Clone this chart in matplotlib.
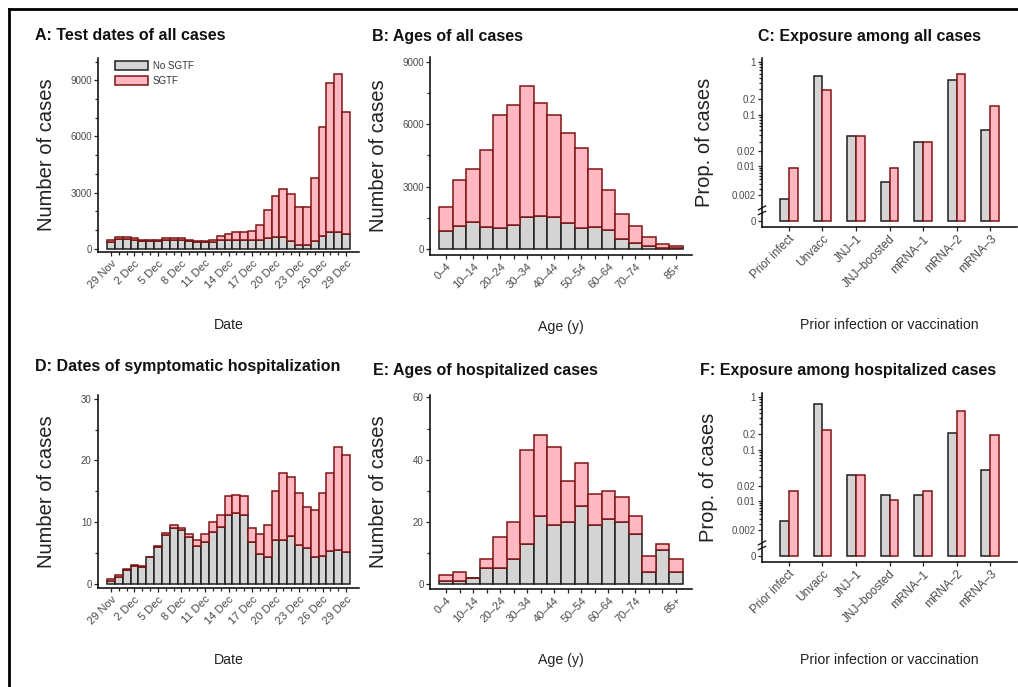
import numpy as np
import pandas as pd
import matplotlib
matplotlib.use("Agg")
import matplotlib.pyplot as plt
import matplotlib.dates as mdates
from matplotlib.lines import Line2D

plt.rcParams['font.family'] = ['Liberation Sans', 'DejaVu Sans']

# ---- data ----
dates = pd.date_range('2021-11-29', '2021-12-29')
date_ticks = pd.date_range('2021-11-29', '2021-12-29', freq='3D')

test_nosgtf = [360, 500, 500, 460, 400, 400, 400, 470, 470, 470, 400, 340, 340, 380, 440, 460,
               440, 440, 440, 480, 560, 620, 620, 420, 220, 200, 420, 700, 900, 900, 800]
test_sgtf = [80, 120, 120, 105, 80, 80, 80, 110, 110, 110, 80, 60, 60, 100, 210, 330,
             440, 440, 480, 810, 1500, 2200, 2590, 2490, 2000, 2020, 3370, 5790, 7980, 8420, 6490]

ages = ['0–4', '5–9', '10–14', '15–19', '20–24', '25–29', '30–34', '35–39', '40–44',
        '45–49', '50–54', '55–59', '60–64', '65–69', '70–74', '75–79', '80–84', '85+']
age_shown = ['0–4', '10–14', '20–24', '30–34', '40–44', '50–54', '60–64', '70–74', '85+']

age_nosgtf = [850, 1125, 1290, 1045, 1010, 1170, 1540, 1575, 1540, 1250, 1010, 1045, 930, 480, 290, 130, 50, 30]
age_sgtf = [1175, 2215, 2540, 3695, 5420, 5740, 6310, 5435, 4890, 4340, 3860, 2785, 1930, 1220, 800, 450, 190, 100]

exposures = ['Prior infect', 'Unvacc', 'JNJ–1', 'JNJ–boosted', 'mRNA–1', 'mRNA–2', 'mRNA–3']
exp_all_nosgtf = [0.0016, 0.547, 0.038, 0.0044, 0.030, 0.447, 0.051]
exp_all_sgtf = [0.009, 0.299, 0.038, 0.009, 0.030, 0.589, 0.145]

hosp_nosgtf = [0.5, 1.2, 2.2, 2.9, 2.8, 4.3, 6.0, 8.0, 9.0, 8.7, 7.6, 6.2, 6.8, 8.4, 9.2, 11.2,
               11.5, 11.2, 6.8, 4.9, 4.3, 7.1, 7.1, 7.8, 6.3, 5.9, 4.3, 4.6, 5.3, 5.5, 5.1]
hosp_sgtf = [0.3, 0.3, 0.2, 0.2, 0.1, 0.0, 0.1, 0.2, 0.5, 0.4, 0.5, 0.9, 1.3, 1.6, 2.0, 3.0,
             2.9, 3.0, 2.2, 3.2, 5.2, 7.9, 10.9, 9.6, 8.5, 6.5, 7.7, 10.1, 12.7, 16.7, 15.8]

hage_nosgtf = [1, 1, 2, 5, 5, 8, 13, 22, 19, 20, 25, 19, 21, 20, 16, 4, 11, 4]
hage_sgtf = [2, 3, 0, 3, 10, 12, 30, 26, 25, 13, 14, 10, 9, 8, 6, 5, 2, 4]

exp_hosp_nosgtf = [0.0036, 0.727, 0.032, 0.0132, 0.0132, 0.207, 0.041]
exp_hosp_sgtf = [0.0156, 0.24, 0.032, 0.0101, 0.0156, 0.543, 0.187]

prop_ticks = [0, 0.002, 0.01, 0.02, 0.1, 0.2, 1]
prop_labels = ['0', '0.002', '0.01', '0.02', '0.1', '0.2', '1']

GRAY, GRAY_EDGE = '#d4d4d4', '#1e1e1e'
PINK, PINK_EDGE = '#ffb8c2', '#7f1414'
TICKC = '#4a4a4a'

W, H = 1018, 687
fig = plt.figure(figsize=(W / 100, H / 100), dpi=100)


def px_axes(l, t, r, b):
    ax = fig.add_axes([l / W, 1 - b / H, (r - l) / W, (b - t) / H])
    for s in ['top', 'right']:
        ax.spines[s].set_visible(False)
    for s in ['left', 'bottom']:
        ax.spines[s].set_linewidth(1.1)
    ax.tick_params(which='both', direction='out', length=3, width=0.9, colors='#222222',
                   labelcolor=TICKC, labelsize=7, pad=1.5)
    ax.tick_params(axis='x', labelsize=8)
    ax.tick_params(which='minor', length=2.5)
    ax.set_facecolor('none')
    return ax, (l, t, r, b)


def labels(ax, box, xlabel, ylabel, xlab_y, ylab_x):
    l, t, r, b = box
    ax.set_xlabel(xlabel, fontsize=10.2, color='#222222')
    ax.set_ylabel(ylabel, fontsize=14.5, color='#222222')
    ax.xaxis.set_label_coords(0.5, (b - xlab_y) / (b - t))
    ax.yaxis.set_label_coords((ylab_x - l) / (r - l), 0.5)
    ax.xaxis.label.set_va('center')
    ax.yaxis.label.set_va('center')


def rot(ax):
    for lab in ax.get_xticklabels():
        lab.set_rotation(45)
        lab.set_ha('right')
        lab.set_rotation_mode('anchor')


def date_panel(box, nos, sg, ymax, major, minor, ymin):
    ax, box = px_axes(*box)
    ax.bar(dates, nos, width=1, color=GRAY, edgecolor=GRAY_EDGE, linewidth=1.1, label='No SGTF')
    ax.bar(dates, sg, width=1, bottom=nos, color=PINK, edgecolor=PINK_EDGE, linewidth=1.1, label='SGTF')
    ax.set_xlim(dates[0] - pd.Timedelta(days=1.65), dates[-1] + pd.Timedelta(days=1.65))
    ax.set_ylim(ymin, ymax)
    ax.set_xticks(date_ticks)
    ax.xaxis.set_major_formatter(mdates.DateFormatter('%-d %b'))
    ax.set_xticks(dates, minor=True)
    ax.set_yticks(major)
    ax.set_yticks(minor, minor=True)
    rot(ax)
    return ax, box


def age_panel(box, nos, sg, ymax, major, minor, ymin):
    ax, box = px_axes(*box)
    x = np.arange(len(ages))
    ax.bar(x, nos, width=1, color=GRAY, edgecolor=GRAY_EDGE, linewidth=1.1)
    ax.bar(x, sg, width=1, bottom=nos, color=PINK, edgecolor=PINK_EDGE, linewidth=1.1)
    ax.set_xlim(-1.2, len(ages) + 0.2)
    ax.set_ylim(ymin, ymax)
    ax.set_xticks(x)
    ax.set_xticklabels([a if a in age_shown else '' for a in ages])
    ax.set_yticks(major)
    ax.set_yticks(minor, minor=True)
    rot(ax)
    return ax, box


def fwd(v):
    return np.log10(np.maximum(np.asarray(v) + 0.001, 1e-9))


def inv(u):
    return 10 ** np.asarray(u) - 0.001


def exposure_panel(box, nos, sg):
    ax, box = px_axes(*box)
    x = np.arange(len(exposures))
    w = 0.265
    ax.set_yscale('function', functions=(fwd, inv))
    ax.bar(x - w / 2, nos, width=w, color=GRAY, edgecolor=GRAY_EDGE, linewidth=1.1)
    ax.bar(x + w / 2, sg, width=w, color=PINK, edgecolor=PINK_EDGE, linewidth=1.1)
    ax.set_xlim(-0.8, 6.8)
    ax.set_ylim(-0.00024, 1.18)
    ax.set_yticks(prop_ticks)
    ax.set_yticklabels(prop_labels)
    minor = [m * d for d in (0.001, 0.01, 0.1) for m in range(3, 10)]
    ax.set_yticks(minor, minor=True)
    ax.set_xticks(x)
    ax.set_xticklabels(exposures, fontsize=8.5)
    rot(ax)
    # axis break marks between 0 and 0.002
    tr = ax.get_yaxis_transform()
    for y0, y1 in ((0.0003, 0.0005), (0.0006, 0.0009)):
        ax.plot([-0.014, 0.014], [y0, y1], transform=tr, clip_on=False, color='#222222', lw=1.0)
    return ax, box


# Panel A
axA, bA = date_panel((98, 58, 359, 252), test_nosgtf, test_sgtf, 10200,
                     [0, 3000, 6000, 9000], [1000, 2000, 4000, 5000, 7000, 8000, 10000], -180)
labels(axA, bA, 'Date', 'Number of cases', 325, 47)
leg = axA.legend(loc='upper left', bbox_to_anchor=(0.065, 0.985), frameon=False, fontsize=7,
                 handlelength=3.4, handleheight=1.1, labelspacing=0.5, borderpad=0,
                 borderaxespad=0, handletextpad=0.5)
for t in leg.get_texts():
    t.set_color('#333333')

# Panel B
axB, bB = age_panel((430, 57, 692, 255), age_nosgtf, age_sgtf, 9240,
                    [0, 3000, 6000, 9000], [1500, 4500, 7500], -290)
labels(axB, bB, 'Age (y)', 'Number of cases', 327, 378)

# Panel C
axC, bC = exposure_panel((762, 58, 1017, 227), exp_all_nosgtf, exp_all_sgtf)
labels(axC, bC, 'Prior infection or vaccination', 'Prop. of cases', 325, 705)

# Panel D
axD, bD = date_panel((98, 395, 359, 588), hosp_nosgtf, hosp_sgtf, 30.6,
                     [0, 10, 20, 30], [5, 15, 25], -0.65)
labels(axD, bD, 'Date', 'Number of cases', 660, 47)

# Panel E
axE, bE = age_panel((430, 395, 692, 589), hage_nosgtf, hage_sgtf, 60.8,
                    [0, 20, 40, 60], [10, 30, 50], -1.6)
labels(axE, bE, 'Age (y)', 'Number of cases', 660, 378)

# Panel F
axF, bF = exposure_panel((762, 393, 1017, 562), exp_hosp_nosgtf, exp_hosp_sgtf)
labels(axF, bF, 'Prior infection or vaccination', 'Prop. of cases', 660, 709)

titles = [('A: Test dates of all cases', 35, 36),
          ('B: Ages of all cases', 372, 36),
          ('C: Exposure among all cases', 758, 37),
          ('D: Dates of symptomatic hospitalization', 35, 366),
          ('E: Ages of hospitalized cases', 373, 370),
          ('F: Exposure among hospitalized cases', 700, 370)]
for txt, x, y in titles:
    fig.text(x / W, 1 - y / H, txt, fontsize=11.5, fontweight='bold', ha='left', va='center',
             color='#111111')

# frame lines along top and left edge
fig.add_artist(Line2D([8.5 / W, 1], [1 - 8.5 / H, 1 - 8.5 / H], color='black', lw=2))
fig.add_artist(Line2D([8.5 / W, 8.5 / W], [0, 1 - 8.5 / H], color='black', lw=2))

fig.savefig('out.png', dpi=100)
